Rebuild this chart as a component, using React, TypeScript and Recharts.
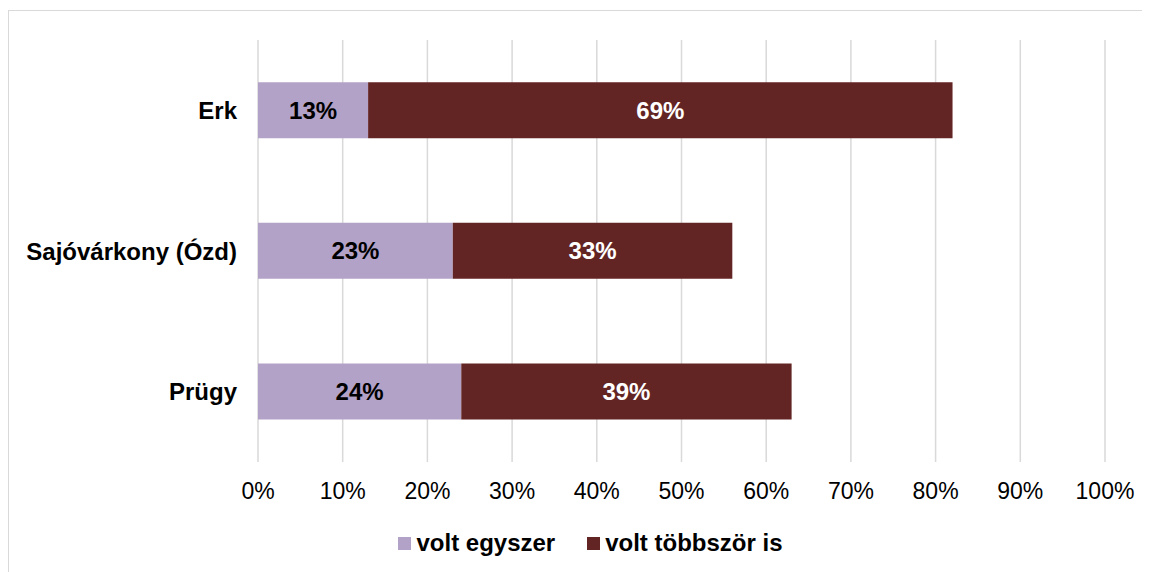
import React from "react";
import {
  BarChart,
  Bar,
  XAxis,
  YAxis,
  CartesianGrid,
  Legend,
  LabelList,
} from "recharts";

const categories = ["Erk", "Sajóvárkony (Ózd)", "Prügy"];
const onceValues = [0.13, 0.23, 0.24];
const multipleValues = [0.69, 0.33, 0.39];
const seriesNames = ["volt egyszer", "volt többször is"];
const xTicks = [0, 0.1, 0.2, 0.3, 0.4, 0.5, 0.6, 0.7, 0.8, 0.9, 1];

const colors = ["#b3a2c7", "#632523"];
const FONT = '"Liberation Sans", Arial, sans-serif';

const data = categories.map((c, i) => ({
  name: c,
  once: onceValues[i],
  multiple: multipleValues[i],
}));

const pct = (v: number) => `${Math.round(v * 100)}%`;

const LegendContent = () => (
  <div
    style={{
      display: "flex",
      justifyContent: "center",
      alignItems: "center",
      height: 50,
      paddingLeft: 68,
      boxSizing: "border-box",
      paddingBottom: 8,
      fontFamily: FONT,
      fontWeight: "bold",
      fontSize: 24,
      color: "#000",
    }}
  >
    {seriesNames.map((n, i) => (
      <div
        key={n}
        style={{ display: "flex", alignItems: "center", marginRight: i === 0 ? 32 : 0 }}
      >
        <div style={{ width: 13, height: 13, background: colors[i], marginRight: 5 }} />
        <span>{n}</span>
      </div>
    ))}
  </div>
);

export default function App() {
  return (
    <div style={{ position: "relative", width: 1142, height: 564 }}>
      <div
        style={{
          position: "absolute",
          left: 0,
          top: 2,
          width: 1142,
          height: 562,
          borderTop: "1px solid #d9d9d9",
          borderLeft: "1px solid #d9d9d9",
          boxSizing: "border-box",
        }}
      />
      <BarChart
        width={1142}
        height={564}
        data={data}
        layout="vertical"
        margin={{ top: 32, right: 45, left: 0, bottom: 0 }}
        barCategoryGap="30%"
      >
        <CartesianGrid horizontal={false} stroke="#d9d9d9" strokeWidth={1.5} />
        <XAxis
          type="number"
          domain={[0, 1]}
          ticks={xTicks}
          tickFormatter={pct}
          axisLine={false}
          tickLine={false}
          tickSize={0}
          tickMargin={21}
          height={60}
          interval={0}
          tick={{ fontFamily: FONT, fontSize: 23, fill: "#000" }}
        />
        <YAxis
          type="category"
          dataKey="name"
          width={250}
          axisLine={false}
          tickLine={false}
          tickSize={0}
          tickMargin={21}
          tick={{ fontFamily: FONT, fontSize: 24, fontWeight: "bold", fill: "#000" }}
        />
        <Legend verticalAlign="bottom" height={50} content={<LegendContent />} />
        <Bar dataKey="once" stackId="a" fill={colors[0]} isAnimationActive={false} name={seriesNames[0]}>
          <LabelList
            dataKey="once"
            position="center"
            formatter={(v: any) => pct(Number(v))}
            style={{ fontFamily: FONT, fontSize: 24, fontWeight: "bold", fill: "#000" }}
          />
        </Bar>
        <Bar dataKey="multiple" stackId="a" fill={colors[1]} isAnimationActive={false} name={seriesNames[1]}>
          <LabelList
            dataKey="multiple"
            position="center"
            formatter={(v: any) => pct(Number(v))}
            style={{ fontFamily: FONT, fontSize: 24, fontWeight: "bold", fill: "#fff" }}
          />
        </Bar>
      </BarChart>
    </div>
  );
}
